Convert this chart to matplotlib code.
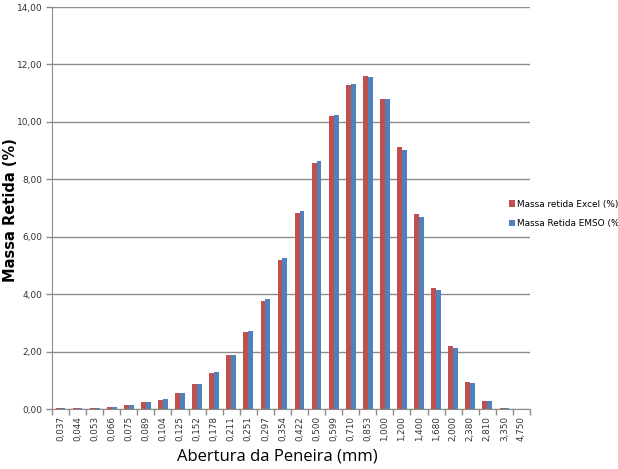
import matplotlib
matplotlib.use("Agg")
import matplotlib.pyplot as plt
import numpy as np

categories = ["0,037", "0,044", "0,053", "0,066", "0,075", "0,089", "0,104", "0,125",
              "0,152", "0,178", "0,211", "0,251", "0,297", "0,354", "0,422", "0,500",
              "0,599", "0,710", "0,853", "1,000", "1,200", "1,400", "1,680", "2,000",
              "2,380", "2,810", "3,350", "4,750"]
excel = [0.03, 0.03, 0.04, 0.06, 0.15, 0.23, 0.33, 0.55, 0.86, 1.25, 1.88, 2.68, 3.75, 5.19,
         6.82, 8.56, 10.19, 11.30, 11.59, 10.81, 9.14, 6.79, 4.23, 2.20, 0.94, 0.29, 0.03, 0.00]
emso = [0.03, 0.03, 0.04, 0.07, 0.15, 0.23, 0.34, 0.55, 0.86, 1.29, 1.88, 2.72, 3.83, 5.25,
        6.90, 8.64, 10.23, 11.32, 11.56, 10.78, 9.02, 6.68, 4.14, 2.11, 0.89, 0.29, 0.02, 0.00]
yticks = [0, 2, 4, 6, 8, 10, 12, 14]

red = "#C0504D"
blue = "#4F81BD"
grid = "#8C8C8C"

fig = plt.figure(figsize=(6.18, 4.69), dpi=100)
ax = fig.add_axes([52/618, 60/469, 478/618, 402/469])

x = np.arange(len(categories))
bw = 1/3.5
ax.bar(x - bw/2, excel, width=bw, color=red, label="Massa retida Excel (%)", zorder=3)
ax.bar(x + bw/2, emso, width=bw, color=blue, label="Massa Retida EMSO (%)", zorder=3)

ax.set_xlim(-0.5, len(categories) - 0.5)
ax.set_ylim(0, 14)
ax.set_yticks(yticks)
ax.set_yticklabels([f"{v:.2f}".replace(".", ",") for v in yticks], fontsize=6.5, color="#333333")
ax.yaxis.grid(True, color=grid, linewidth=1.0, zorder=0)
ax.set_xticks(x)
ax.set_xticklabels(categories, rotation=90, fontsize=6.3, color="#333333")
ax.tick_params(axis="x", which="major", length=0, pad=5)
ax.set_xticks(np.arange(-0.5, len(categories)), minor=True)
ax.tick_params(axis="x", which="minor", length=4, color=grid, width=1)
ax.tick_params(axis="y", length=4, color=grid, width=1, pad=3)

for s in ["top", "right"]:
    ax.spines[s].set_visible(False)
ax.spines["left"].set_color(grid)
ax.spines["bottom"].set_color(grid)

ax.set_ylabel("Massa Retida (%)", fontsize=10.5, fontweight="bold", va="center")
ax.yaxis.set_label_coords((11 - 52) / 478, (409 - 210) / 402)
ax.set_xlabel("Abertura da Peneira (mm)", fontsize=12, family="Open Sans", va="center")
ax.xaxis.set_label_coords((277 - 52) / 478, -(456 - 409) / 402)

fig.legend(loc="upper left", bbox_to_anchor=(505/618, 1 - 196/469), frameon=False,
           fontsize=6.4, handlelength=0.7, handleheight=0.7, handletextpad=0.3,
           labelspacing=1.2, borderaxespad=0)

fig.savefig("out.png", dpi=100)
